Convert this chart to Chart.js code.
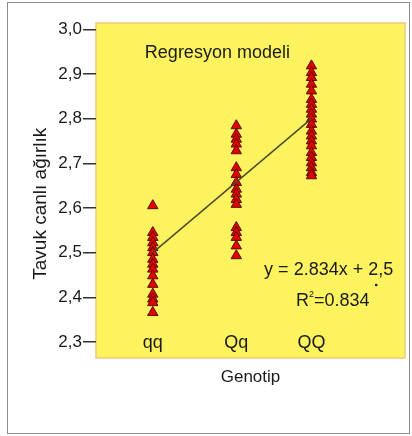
<!DOCTYPE html>
<html>
<head>
<meta charset="utf-8">
<script src="https://cdn.jsdelivr.net/npm/chart.js@4.4.1/dist/chart.umd.min.js"></script>
<style>
  body { margin: 0; background: #fff; }
  #wrap { position: relative; width: 412px; height: 436px; }
  #frame { position: absolute; left: 7px; top: 2px; width: 401px; height: 430px; border: 1px solid #8c8c8c; pointer-events: none; }
</style>
</head>
<body>
<div id="wrap">
  <canvas id="chart" width="412" height="436"></canvas>
  <div id="frame"></div>
</div>
<script>
// genotypes and their place on the x axis
var genotypes = ["qq", "Qq", "QQ"];
var genotypePos = [1, 2, 2.9];

// live weight readings per genotype
var qqValues = [2.605, 2.545, 2.534, 2.522, 2.511, 2.500, 2.485, 2.474, 2.463, 2.448, 2.429, 2.407, 2.396, 2.388, 2.366];
var QqValues = [2.784, 2.765, 2.754, 2.743, 2.728, 2.690, 2.675, 2.657, 2.642, 2.631, 2.619, 2.608, 2.556, 2.545, 2.534, 2.515, 2.493];
var QQValues = [2.918, 2.903, 2.892, 2.877, 2.862, 2.843, 2.832, 2.821, 2.810, 2.799, 2.787, 2.772, 2.761, 2.750, 2.739, 2.724, 2.713, 2.701, 2.690, 2.679, 2.672];

// regression line ends (qq -> QQ)
var fitX = [1, 2.9];
var fitY = [2.50, 2.80];

var yTicks = [2.3, 2.4, 2.5, 2.6, 2.7, 2.8, 2.9, 3.0];

var FONT = "'Liberation Sans', Arial, sans-serif";

var points = [];
[qqValues, QqValues, QQValues].forEach(function (vals, i) {
  vals.forEach(function (v) { points.push({ x: genotypePos[i], y: v }); });
});

// yellow plot box + texts inside it
var boxPlugin = {
  id: "box",
  beforeDraw: function (chart) {
    var a = chart.chartArea, c = chart.ctx;
    c.save();
    c.fillStyle = "#fdf35f";
    c.fillRect(a.left, a.top, a.right - a.left, a.bottom - a.top);
    c.strokeStyle = "#f0c879";
    c.lineWidth = 1.5;
    c.strokeRect(a.left, a.top, a.right - a.left, a.bottom - a.top);
    c.restore();
  },
  afterDatasetsDraw: function (chart) {
    var c = chart.ctx, xs = chart.scales.x, ys = chart.scales.y;
    c.save();
    c.fillStyle = "#1a1a1a";
    c.textBaseline = "middle";
    c.textAlign = "left";
    c.font = "18px " + FONT;
    c.fillText("Regresyon modeli", xs.getPixelForValue(0.905), ys.getPixelForValue(2.946));
    var ex = xs.getPixelForValue(2.333), ey = ys.getPixelForValue(2.461);
    c.fillText("y = 2.834x + 2,5", ex, ey);
    var pre = c.measureText("y = 2.834x + ").width, two = c.measureText("2").width;
    c.beginPath();
    c.arc(ex + pre + two / 2 + 3, ey + 15, 1.3, 0, Math.PI * 2);
    c.fill();
    var rx = xs.getPixelForValue(2.714), ry = ys.getPixelForValue(2.392);
    c.fillText("R", rx, ry);
    var w = c.measureText("R").width;
    c.font = "9px " + FONT;
    c.fillText("2", rx + w, ry - 6);
    var w2 = c.measureText("2").width;
    c.font = "18px " + FONT;
    c.fillText("=0.834", rx + w + w2, ry);
    c.restore();
  }
};

new Chart(document.getElementById("chart"), {
  type: "scatter",
  data: {
    datasets: [
      {
        type: "line",
        data: fitX.map(function (x, i) { return { x: x, y: fitY[i] }; }),
        borderColor: "#4d4a26",
        borderWidth: 1.5,
        pointRadius: 0,
        order: 0
      },
      {
        data: points,
        pointStyle: "triangle",
        pointRadius: 6,
        backgroundColor: "#e30000",
        borderColor: "#5a0a00",
        borderWidth: 1,
        order: 1
      }
    ]
  },
  options: {
    responsive: false,
    animation: false,
    layout: { padding: { left: 0, top: 23, right: 5, bottom: 48 } },
    plugins: { legend: { display: false }, tooltip: { enabled: false } },
    scales: {
      x: {
        type: "linear",
        min: 0.32,
        max: 4.02,
        grid: { display: false, drawTicks: false },
        border: { display: false },
        afterBuildTicks: function (scale) {
          scale.ticks = genotypePos.map(function (p) { return { value: p }; });
        },
        afterFit: function (scale) { scale.height = 30; },
        ticks: {
          mirror: true,
          padding: 4,
          color: "#1a1a1a",
          font: { family: FONT, size: 18 },
          callback: function (v) { return genotypes[genotypePos.indexOf(v)]; }
        },
        title: {
          display: true,
          text: "Genotip",
          color: "#1a1a1a",
          font: { family: FONT, size: 17 },
          padding: { top: 0, bottom: 0 }
        }
      },
      y: {
        min: 2.264,
        max: 3.014,
        grid: { display: true, drawOnChartArea: false, drawTicks: true, tickLength: 13, color: "#333", lineWidth: 1.5 },
        border: { display: false },
        afterBuildTicks: function (scale) {
          scale.ticks = yTicks.map(function (v) { return { value: v }; });
        },
        afterFit: function (scale) { scale.width = 96; },
        ticks: {
          padding: 1,
          color: "#1a1a1a",
          font: { family: FONT, size: 17 },
          callback: function (v) { return v.toFixed(1).replace(".", ","); }
        },
        title: {
          display: true,
          text: "Tavuk canlı ağırlık\u00a0\u00a0\u00a0\u00a0\u00a0",
          color: "#1a1a1a",
          font: { family: FONT, size: 19 },
          padding: { top: 29, bottom: 0 }
        }
      }
    }
  },
  plugins: [boxPlugin]
});
</script>
</body>
</html>
